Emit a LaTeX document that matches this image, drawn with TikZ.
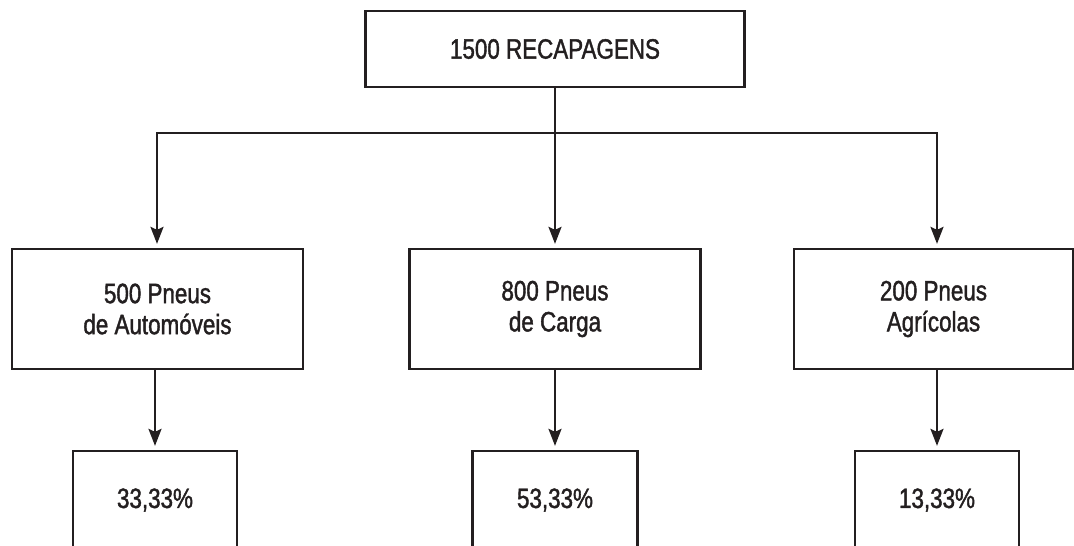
\documentclass[tikz,border=0pt]{standalone}
\usepackage{fontspec}
\setmainfont[FakeStretch=0.8,FakeBold=1.4]{Liberation Sans}
\usetikzlibrary{arrows.meta}
\definecolor{ink}{RGB}{35,31,32}
\begin{document}
\begin{tikzpicture}[x=1pt,y=-1pt,
  box/.style={draw=ink, line width=2.3pt, fill=white, inner sep=0pt, align=center,
    font=\fontsize{28}{31}\selectfont, text=ink},
  conn/.style={draw=ink, line width=2.3pt, -{Stealth[length=17pt,width=13pt,inset=3pt]}, shorten >=4pt}
]
\useasboundingbox (0,0) rectangle (1074,546);
\clip (0,0) rectangle (1074,546);
\node[box, minimum width=379pt, minimum height=76pt] (top) at (555,49) {1500 RECAPAGENS};
\node[box, minimum width=291pt, minimum height=120pt] (mA) at (157.5,309) {500 Pneus\\de Automóveis};
\node[box, minimum width=291pt, minimum height=120pt] (mB) at (555,309) {800 Pneus\\de Carga};
\node[box, minimum width=279pt, minimum height=120pt] (mC) at (933.5,309) {200 Pneus\\Agrícolas};
\node[box, minimum width=164pt, minimum height=98pt] (bA) at (155,500) {33,33\%};
\node[box, minimum width=165pt, minimum height=98pt] (bB) at (555,500) {53,33\%};
\node[box, minimum width=164pt, minimum height=98pt] (bC) at (937,500) {13,33\%};
\coordinate (hl) at (157,133);
\coordinate (hr) at (937,133);
\draw[conn] (top.south |- hl) -| (mA.north -| hl);
\draw[conn] (top.south |- hl) -| (mC.north -| hr);
\draw[conn] (top.south) -- (top.south |- mB.north);
\draw[conn] (bA.north |- mA.south) -- (bA.north);
\draw[conn] (bB.north |- mB.south) -- (bB.north);
\draw[conn] (bC.north |- mC.south) -- (bC.north);
\end{tikzpicture}
\end{document}
